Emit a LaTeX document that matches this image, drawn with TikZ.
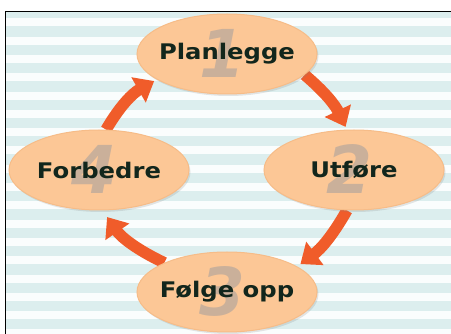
\documentclass[tikz,border=0pt]{standalone}
\usepackage{fontspec}
\newfontfamily\stagefont{DejaVu Sans}[FakeStretch=1.13]
\newfontfamily\numfont{DejaVu Sans}
\usetikzlibrary{arrows.meta, shapes.geometric, shadows, backgrounds}

\definecolor{stripeblue}{RGB}{220,238,238}
\definecolor{stripewhite}{RGB}{250,253,253}
\definecolor{peach}{RGB}{252,199,150}
\definecolor{peachrim}{RGB}{246,188,136}
\definecolor{flowred}{RGB}{240,92,42}
\definecolor{inkgreen}{RGB}{18,38,28}
\definecolor{numgrey}{RGB}{128,142,160}

\begin{document}
\begin{tikzpicture}[
    x=1pt, y=-1pt,
    % Node styles
    bignum/.style={
        font=\numfont\bfseries\itshape\fontsize{66}{66}\selectfont,
        text=numgrey, text opacity=0.4, inner sep=0pt
    },
    stage/.style={
        ellipse, fill=peach, draw=peachrim, line width=1pt,
        minimum width=180pt, minimum height=80pt,
        inner sep=0pt, inner xsep=-6pt,
        text=inkgreen,
        font=\stagefont\bfseries\fontsize{21.5}{23}\selectfont,
        drop shadow={opacity=0.2, shadow xshift=1.5pt, shadow yshift=-2pt},
        path picture={
            \node[bignum] at ([xshift=-5pt, yshift=1pt]path picture bounding box.center) {#1};
        }
    },
    flow/.style={
        line width=11.5pt, draw=flowred,
        -{Triangle[length=18pt, width=28pt]}
    },
]

\useasboundingbox (0,0) rectangle (451,334);

%% ---- BACKGROUND: stripes + frame ----
\begin{scope}[on background layer]
  \fill[white] (0,0) rectangle (451,334);
  \fill[stripeblue] (5.5,11.5) rectangle (451,334);
  \foreach \k in {0,...,17} {
    \fill[stripewhite] (6,{18.4+18.3*\k}) rectangle (451,{26.4+18.3*\k});
  }
  \draw[line width=1.5pt] (451,11.5) -- (5.5,11.5) -- (5.5,334);
\end{scope}

%% ---- STAGES ----
\node[stage=1] (pl) at (227,54)  {Planlegge};
\node[stage=2] (ut) at (354,170) {Utføre};
\node[stage=3] (fo) at (227,292) {Følge opp};
\node[stage=4] (fb) at (99,170)  {Forbedre};

%% ---- ARROWS ----
\begin{scope}[on background layer]
  % Planlegge -> Utføre
  \draw[flow, shorten >=3pt] (pl.-15) to[bend left=12] (ut.100);
  % Utføre -> Følge opp
  \draw[flow, shorten >=4pt] (ut.-100) to[bend left=12] (fo.20);
  % Følge opp -> Forbedre
  \draw[flow, shorten >=8pt] (fo.155) to[bend left=15] (fb.-85);
  % Forbedre -> Planlegge
  \draw[flow, shorten >=3pt] (fb.80) to[bend left=15] (pl.200);
\end{scope}

\end{tikzpicture}
\end{document}
